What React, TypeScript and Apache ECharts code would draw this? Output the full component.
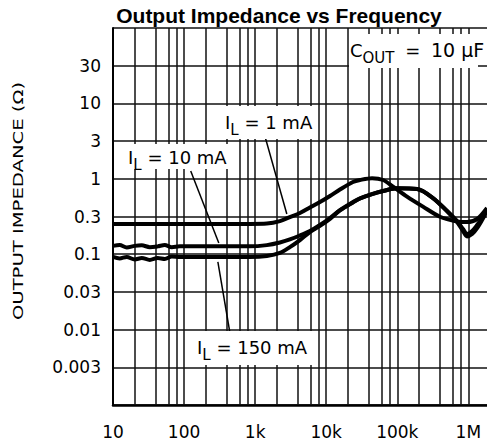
import React, { useEffect, useRef } from 'react';
import * as echarts from 'echarts';

const TITLE = 'Output Impedance vs Frequency';
const Y_NAME = 'OUTPUT IMPEDANCE (Ω)';

// X axis (frequency, Hz) – log scale
const xTickValues = [10, 100, 1000, 10000, 100000, 1000000];
const xTickLabels = ['10', '100', '1k', '10k', '100k', '1M'];
const xMaxFreq = 1830000;
const gridDecades = [10, 100, 1000, 10000, 100000, 1000000];
const gridMultipliers = [1, 2, 4, 6, 8];

// Y axis (impedance, Ω) – half-decade ticks
const yMinDecade = -3;
const yMaxDecade = 2;
const yTickLabels = ['0.003', '0.01', '0.03', '0.1', '0.3', '1', '3', '10', '30'];

// I_L = 1 mA
const freq1mA = [10, 67, 840, 1460, 2230, 3080, 4270, 5900, 8170, 11300, 15600, 23800, 29900, 44100, 63200, 87100, 137000, 230000, 399000, 693000, 959000, 1330000, 1830000];
const z1mA = [0.252, 0.252, 0.252, 0.255, 0.275, 0.311, 0.352, 0.416, 0.492, 0.592, 0.721, 0.908, 0.964, 1.02, 0.964, 0.785, 0.58, 0.427, 0.314, 0.272, 0.267, 0.293, 0.41];

// I_L = 10 mA and 150 mA share frequency points
const freqHi = [10, 12.4, 15.6, 20.2, 25.4, 32.9, 42.6, 53.5, 67.2, 87.1, 840, 1460, 2230, 3080, 4270, 5900, 8170, 11300, 15600, 23800, 29900, 44100, 63200, 99300, 190000, 318000, 501000, 693000, 841000, 959000, 1130000, 1330000, 1560000, 1830000];
const z10mA = [0.129, 0.132, 0.123, 0.129, 0.131, 0.124, 0.127, 0.132, 0.124, 0.127, 0.127, 0.132, 0.143, 0.157, 0.177, 0.203, 0.244, 0.302, 0.385, 0.492, 0.551, 0.628, 0.689, 0.748, 0.733, 0.556, 0.374, 0.275, 0.216, 0.185, 0.203, 0.244, 0.302, 0.397];
const z150mA = [0.092, 0.0877, 0.092, 0.0851, 0.0891, 0.084, 0.0891, 0.0863, 0.0931, 0.092, 0.092, 0.0946, 0.1038, 0.124, 0.154, 0.197, 0.237, 0.293, 0.38, 0.485, 0.548, 0.628, 0.689, 0.748, 0.733, 0.556, 0.374, 0.267, 0.203, 0.172, 0.185, 0.222, 0.284, 0.374];

// Annotation arrows (frequency, impedance) from label to curve
const arrowFromFreq = [1370, 124, 440];
const arrowFromZ = [3.7, 1.27, 0.00929];
const arrowToFreq = [2790, 308, 299];
const arrowToZ = [0.341, 0.141, 0.0789];

const FONT = '"DejaVu Sans", sans-serif';

export default function App() {
  const ref = useRef<HTMLDivElement>(null);

  useEffect(() => {
    if (!ref.current) return;
    const chart = echarts.init(ref.current, undefined, { renderer: 'svg' });
    const xMin = Math.log10(xTickValues[0]);
    const xMax = Math.log10(xMaxFreq);

    const verticals: number[] = [];
    gridDecades.forEach((d) =>
      gridMultipliers.forEach((m) => {
        const v = Math.log10(d * m);
        if (v > xMin + 1e-6 && v < xMax) verticals.push(v);
      })
    );

    const toPairs = (f: number[], z: number[]) => f.map((x, i) => [Math.log10(x), Math.log10(z[i])]);

    const curve = (name: string, f: number[], z: number[]) => ({
      name,
      type: 'line',
      data: toPairs(f, z),
      showSymbol: false,
      symbol: 'none',
      smooth: 0.3,
      silent: true,
      z: 5,
      lineStyle: { color: '#000', width: 4 },
    });

    const rich = {
      m: { fontSize: 18, fontFamily: FONT, fill: '#000', verticalAlign: 'middle', lineHeight: 30 },
      e: { fontSize: 18, fontFamily: FONT, fill: '#000', verticalAlign: 'middle', lineHeight: 30, padding: [0, 0, 0, 5] },
      w: { fontSize: 19, fontFamily: FONT, fill: '#000', verticalAlign: 'middle', lineHeight: 30, padding: [0, 0, 0, 5] },
      s: { fontSize: 15, fontFamily: FONT, fill: '#000', verticalAlign: 'bottom', lineHeight: 13 },
    };

    const box = (x: number, y: number, w: number, h: number) => ({
      type: 'rect',
      shape: { x, y, width: w, height: h },
      style: { fill: '#fff' },
      z: 100,
      silent: true,
    });
    const label = (x: number, y: number, text: string) => ({
      type: 'text',
      x,
      y,
      z: 101,
      silent: true,
      style: { text, rich, align: 'left', verticalAlign: 'middle' },
    });

    chart.setOption({
      animation: false,
      grid: { left: 113, top: 28, right: 0, bottom: 42, outerBoundsMode: 'none' },
      xAxis: {
        type: 'value',
        min: xMin,
        max: xMax,
        interval: 1,
        axisLine: { show: true, onZero: false, lineStyle: { color: '#000', width: 2.5 } },
        axisTick: { show: false },
        splitLine: { show: false },
        axisLabel: {
          margin: 18,
          color: '#000',
          fontSize: 17,
          fontFamily: FONT,
          formatter: (v: number) => {
            const r = Math.round(v);
            if (Math.abs(v - r) > 1e-6) return '';
            const i = xTickValues.findIndex((t) => Math.abs(Math.log10(t) - r) < 1e-6);
            return i >= 0 ? xTickLabels[i] : '';
          },
        },
      },
      yAxis: {
        type: 'value',
        min: yMinDecade,
        max: yMaxDecade,
        interval: 0.5,
        axisLine: { show: true, onZero: false, lineStyle: { color: '#000', width: 2 } },
        axisTick: { show: false },
        splitLine: { show: true, lineStyle: { color: '#111', width: 1.5 } },
        axisLabel: {
          margin: 12,
          color: '#000',
          fontSize: 17,
          fontFamily: FONT,
          formatter: (v: number) => {
            const i = Math.round((v - yMinDecade) / 0.5) - 1;
            return i >= 0 && i < yTickLabels.length ? yTickLabels[i] : '';
          },
        },
      },
      series: [
        {
          name: 'grid',
          type: 'line',
          data: [],
          silent: true,
          z: 1,
          markLine: {
            silent: true,
            symbol: ['none', 'none'],
            label: { show: false },
            lineStyle: { color: '#111', width: 1.5, type: 'solid' },
            emphasis: { disabled: true },
            data: verticals.map((v) => ({ xAxis: v })),
          },
        },
        curve('IL = 1 mA', freq1mA, z1mA),
        curve('IL = 10 mA', freqHi, z10mA),
        curve('IL = 150 mA', freqHi, z150mA),
        {
          name: 'arrows',
          type: 'line',
          data: [],
          silent: true,
          z: 6,
          markLine: {
            silent: true,
            symbol: ['none', 'arrow'],
            symbolSize: [0, 14],
            label: { show: false },
            lineStyle: { color: '#000', width: 1.5, type: 'solid' },
            itemStyle: { color: '#000' },
            emphasis: { disabled: true },
            data: arrowFromFreq.map((f, i) => [
              { coord: [Math.log10(f), Math.log10(arrowFromZ[i])] },
              { coord: [Math.log10(arrowToFreq[i]), Math.log10(arrowToZ[i])] },
            ]),
          },
        },
      ],
      graphic: [
        {
          type: 'text',
          x: 279,
          y: 15,
          silent: true,
          style: {
            text: TITLE,
            font: 'bold 21px "Liberation Sans", Arial, sans-serif',
            fill: '#000',
            align: 'center',
            verticalAlign: 'middle',
          },
        },
        {
          type: 'text',
          x: 18,
          y: 201,
          rotation: Math.PI / 2,
          scaleX: 1.4,
          silent: true,
          style: {
            text: Y_NAME,
            font: '14px "DejaVu Sans", sans-serif',
            fill: '#000',
            align: 'center',
            verticalAlign: 'middle',
          },
        },
        box(349, 34, 129, 34),
        label(350, 50, '{m|C}{s|OUT}{e| = }{w|10 µF}'),
        box(210, 106, 107, 33),
        label(225, 122, '{m|I}{s|L}{m| = 1 mA}'),
        box(116, 144, 120, 25),
        label(128, 157, '{m|I}{s|L}{m| = 10 mA}'),
        box(186, 331, 132, 34),
        label(197, 347, '{m|I}{s|L}{m| = 150 mA}'),
      ],
    });

    return () => chart.dispose();
  }, []);

  return (
    <div
      ref={ref}
      style={{ position: 'absolute', left: 0, top: 0, width: 487, height: 447, background: '#fff' }}
    />
  );
}
